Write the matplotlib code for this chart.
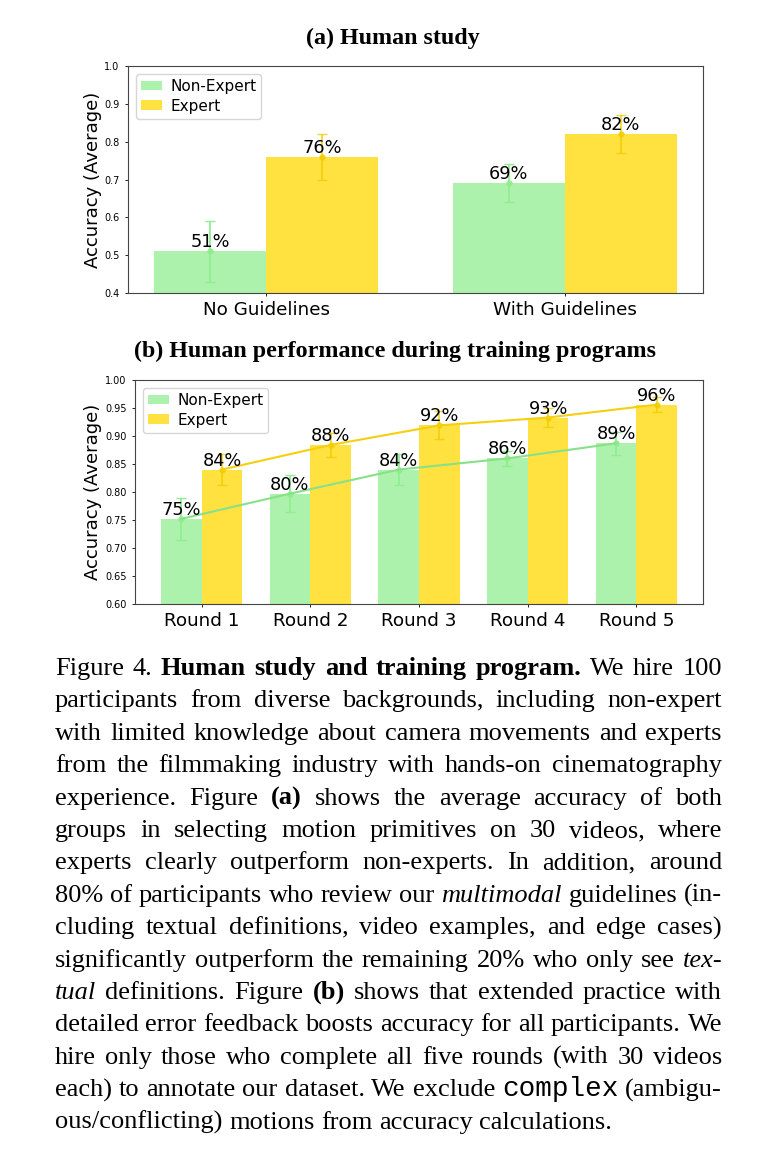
import numpy as np
import matplotlib
matplotlib.use('Agg')
import matplotlib.pyplot as plt

# ---- data ----
groups_a = ['No Guidelines', 'With Guidelines']
nonexp_a = [0.51, 0.69]
nonexp_a_err = [0.08, 0.05]
exp_a = [0.76, 0.82]
exp_a_err = [0.06, 0.05]

rounds_b = ['Round 1', 'Round 2', 'Round 3', 'Round 4', 'Round 5']
nonexp_b = [0.752, 0.797, 0.840, 0.860, 0.887]
nonexp_b_err = [0.038, 0.033, 0.027, 0.013, 0.021]
exp_b = [0.840, 0.884, 0.919, 0.933, 0.956]
exp_b_err = [0.027, 0.022, 0.025, 0.017, 0.014]

title_a = '(a) Human study'
title_b = '(b) Human performance during training programs'

# caption words: ** bold, __ italic, `` mono
caption = [
    "Figure 4. **Human **study **and **training **program. We hire 100",
    "participants from diverse backgrounds, including non-expert",
    "with limited knowledge about camera movements and experts",
    "from the filmmaking industry with hands-on cinematography",
    "experience. Figure **(a) shows the average accuracy of both",
    "groups in selecting motion primitives on 30 videos, where",
    "experts clearly outperform non-experts. In addition, around",
    "80% of participants who review our __multimodal guidelines (in-",
    "cluding textual definitions, video examples, and edge cases)",
    "significantly outperform the remaining 20% who only see __tex-",
    "__tual definitions. Figure **(b) shows that extended practice with",
    "detailed error feedback boosts accuracy for all participants. We",
    "hire only those who complete all five rounds (with 30 videos",
    "each) to annotate our dataset. We exclude ``complex (ambigu-",
    "ous/conflicting) motions from accuracy calculations.",
]

W, H = 783, 1174
green = '#90EE90'
yellow = '#FFD700'
bw = 0.375


def style_axes(ax, labels, x):
    ax.set_xticks(x)
    ax.set_xticklabels(labels, fontsize=13.2)
    ax.set_ylabel('Accuracy (Average)', fontsize=13, labelpad=2)
    ax.tick_params(axis='y', labelsize=7, length=2.5, width=0.6)
    ax.tick_params(axis='x', length=2.5, width=0.6)
    for s in ax.spines.values():
        s.set_color('#444444')
        s.set_linewidth(0.8)
    ax.legend(loc='upper left', fontsize=11, handlelength=1.4,
              handleheight=0.6, labelspacing=0.3, borderpad=0.35,
              handletextpad=0.5)


def draw_bars(ax, x, ne, ne_err, ex, ex_err):
    b1 = ax.bar(x - bw / 2, ne, bw, color=green, alpha=0.75, label='Non-Expert')
    b2 = ax.bar(x + bw / 2, ex, bw, color=yellow, alpha=0.75, label='Expert')
    ax.errorbar(x - bw / 2, ne, yerr=ne_err, fmt='o', color=green, ms=3.5,
                capsize=3.5, elinewidth=1.3, capthick=1.0)
    ax.errorbar(x + bw / 2, ex, yerr=ex_err, fmt='o', color='#F2CC00', ms=3.5,
                capsize=3.5, elinewidth=1.3, capthick=1.0, alpha=0.8)
    for rects, vals in ((b1, ne), (b2, ex)):
        for r, v in zip(rects, vals):
            ax.text(r.get_x() + r.get_width() / 2, v, f'{v * 100:.0f}%',
                    ha='center', va='bottom', fontsize=12.8, zorder=5)


fig = plt.figure(figsize=(W / 100, H / 100), dpi=100)

# (a)
ax_a = fig.add_axes([128 / W, 1 - 293 / H, 575 / W, 227 / H])
xa = np.arange(len(groups_a))
draw_bars(ax_a, xa, nonexp_a, nonexp_a_err, exp_a, exp_a_err)
ax_a.set_ylim(0.4, 1.0)
ax_a.set_yticks(np.arange(0.4, 1.01, 0.1))
ax_a.set_yticklabels([f'{t:.1f}' for t in np.arange(0.4, 1.01, 0.1)])
style_axes(ax_a, groups_a, xa)

# (b)
ax_b = fig.add_axes([135 / W, 1 - 604 / H, 568 / W, 224 / H])
xb = np.arange(len(rounds_b))
draw_bars(ax_b, xb, nonexp_b, nonexp_b_err, exp_b, exp_b_err)
ax_b.plot(xb - bw / 2, nonexp_b, color='#88e088', lw=1.5, zorder=4)
ax_b.plot(xb + bw / 2, exp_b, color='#F5CF10', lw=1.5, zorder=4)
ax_b.set_ylim(0.6, 1.0)
yt = np.arange(0.6, 1.001, 0.05)
ax_b.set_yticks(yt)
ax_b.set_yticklabels([f'{t:.2f}' for t in yt])
style_axes(ax_b, rounds_b, xb)

serif = 'Liberation Serif'
fig.text(393 / W, 1 - 38 / H, title_a, ha='center', va='center',
         family=serif, weight='bold', fontsize=17.3)
fig.text(395 / W, 1 - 351 / H, title_b, ha='center', va='center',
         family=serif, weight='bold', fontsize=17.3)

# ---- justified caption ----
renderer = fig.canvas.get_renderer()


def parse(line):
    out = []
    for w in line.split():
        if w.startswith('**'):
            out.append((w[2:], 'b'))
        elif w.startswith('__'):
            out.append((w[2:], 'i'))
        elif w.startswith('``'):
            out.append((w[2:], 'm'))
        else:
            out.append((w, 'n'))
    return out


def props(style, fs):
    if style == 'b':
        return dict(family=serif, weight='bold', fontsize=fs)
    if style == 'i':
        return dict(family=serif, style='italic', fontsize=fs)
    if style == 'm':
        return dict(family='Liberation Mono', fontsize=fs * 1.05)
    return dict(family=serif, fontsize=fs)


def width(s, style, fs):
    t = fig.text(0, 0, s, **props(style, fs))
    w = t.get_window_extent(renderer).width
    t.remove()
    return w


parsed = [parse(l) for l in caption]
left, right = 55, 722
base = 18.0
sp = width('a a', 'n', base) - width('aa', 'n', base)
nat = []
for words in parsed[:-1]:
    # spaces may shrink a little, as in TeX
    nat.append(sum(width(w, s, base) for w, s in words) + 0.72 * sp * (len(words) - 1))
fs = min(19.0, base * (right - left) / max(nat))
sp = sp * fs / base

y0, dy = 675, 32.4
for i, words in enumerate(parsed):
    ws = [width(w, s, fs) for w, s in words]
    if i < len(parsed) - 1:
        gap = (right - left - sum(ws)) / (len(words) - 1)
    else:
        gap = sp
    x = left
    for (w, s), wd in zip(words, ws):
        fig.text(x / W, 1 - (y0 + i * dy) / H, w, ha='left', va='baseline',
                 **props(s, fs))
        x += wd + gap

fig.savefig('out.png', dpi=100)
